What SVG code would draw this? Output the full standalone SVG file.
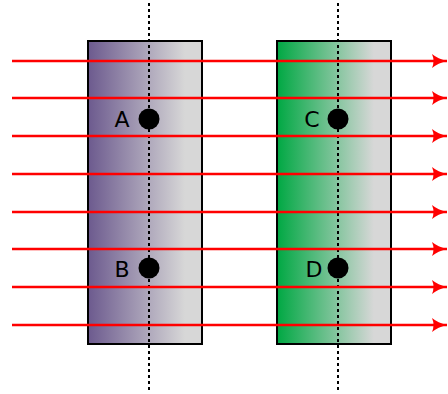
<svg xmlns="http://www.w3.org/2000/svg" width="448" height="394" viewBox="0 0 448 394">
<defs>
<linearGradient id="gp" x1="0" y1="0" x2="1" y2="0">
<stop offset="0" stop-color="#6c5a8e"/>
<stop offset="0.85" stop-color="#d7d7d7"/>
<stop offset="1" stop-color="#d7d7d7"/>
</linearGradient>
<linearGradient id="gg" x1="0" y1="0" x2="1" y2="0">
<stop offset="0" stop-color="#00a843"/>
<stop offset="0.85" stop-color="#d7d7d7"/>
<stop offset="1" stop-color="#d7d7d7"/>
</linearGradient>
<marker id="ah" markerUnits="userSpaceOnUse" markerWidth="18" markerHeight="18" viewBox="0 0 18 18" refX="16" refY="9" orient="auto">
<path d="M1,2 Q7,7 16,9 Q7,11 1,16 Q4,9 1,2 Z" fill="#ff0000"/>
</marker>
<style>
.slab{stroke:#000;stroke-width:2}
.axis{stroke:#000;stroke-width:2;stroke-dasharray:3,3;fill:none}
.ray{stroke:#ff0000;stroke-width:2.5;fill:none;marker-end:url(#ah)}
.lbl{font-family:"Comic Sans MS","DejaVu Sans",sans-serif;font-size:22px;fill:#000}
</style>
</defs>
<g id="slab1"><rect class="slab" x="88" y="41" width="114" height="303" fill="url(#gp)"/></g>
<g id="slab2"><rect class="slab" x="277" y="41" width="114" height="303" fill="url(#gg)"/></g>
<g id="axes">
<line class="axis" x1="149" y1="3" x2="149" y2="391"/>
<line class="axis" x1="338" y1="3" x2="338" y2="391"/>
</g>
<g id="connectors">
<line class="ray" x1="12" y1="61" x2="447" y2="61"/>
<line class="ray" x1="12" y1="98" x2="447" y2="98"/>
<line class="ray" x1="12" y1="136" x2="447" y2="136"/>
<line class="ray" x1="12" y1="174" x2="447" y2="174"/>
<line class="ray" x1="12" y1="212" x2="447" y2="212"/>
<line class="ray" x1="12" y1="249" x2="447" y2="249"/>
<line class="ray" x1="12" y1="287" x2="447" y2="287"/>
<line class="ray" x1="12" y1="325" x2="447" y2="325"/>
</g>
<g id="A"><circle cx="149" cy="119" r="10.5"/><text class="lbl" x="122" y="127" text-anchor="middle">A</text></g>
<g id="B"><circle cx="149" cy="268" r="10.5"/><text class="lbl" x="122" y="277" text-anchor="middle">B</text></g>
<g id="C"><circle cx="338" cy="119" r="10.5"/><text class="lbl" x="312" y="127" text-anchor="middle">C</text></g>
<g id="D"><circle cx="338" cy="268" r="10.5"/><text class="lbl" x="314" y="277" text-anchor="middle">D</text></g>
</svg>
